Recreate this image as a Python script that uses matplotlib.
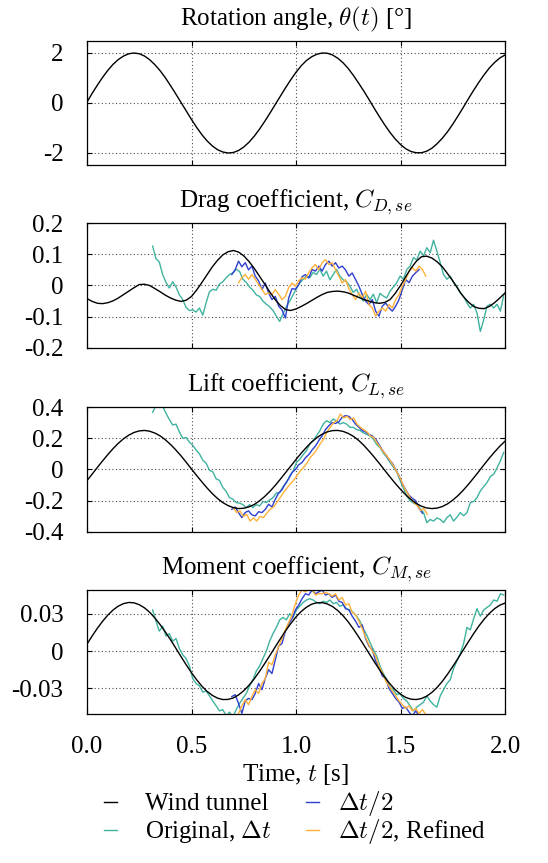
import numpy as np
import matplotlib
matplotlib.use("Agg")
import matplotlib.pyplot as plt
from matplotlib.lines import Line2D

plt.rcParams['font.family'] = ['Liberation Serif', 'DejaVu Serif']
plt.rcParams['mathtext.fontset'] = 'cm'
plt.rcParams['axes.unicode_minus'] = False

# ---------------- data ----------------
# wind tunnel curves, sampled every 0.025 s from 0 to 2 s
t_wt = [round(0.025 * i, 3) for i in range(81)]
theta_wt = [0.04, 0.39, 0.72, 1.03, 1.31, 1.55, 1.74, 1.88, 1.97, 2.00,
            1.97, 1.88, 1.73, 1.53, 1.29, 1.01, 0.69, 0.36, 0.02, -0.32,
            -0.66, -0.98, -1.27, -1.52, -1.72, -1.87, -1.96, -2.00, -1.98, -1.90,
            -1.76, -1.57, -1.33, -1.05, -0.74, -0.41, -0.07, 0.27, 0.61, 0.93,
            1.23, 1.49, 1.70, 1.85, 1.95, 2.00, 1.99, 1.92, 1.79, 1.61,
            1.38, 1.10, 0.79, 0.47, 0.13, -0.22, -0.56, -0.88, -1.18, -1.44,
            -1.66, -1.83, -1.94, -1.99, -1.99, -1.93, -1.81, -1.63, -1.41, -1.15,
            -0.85, -0.52, -0.18, 0.17, 0.51, 0.83, 1.13, 1.40, 1.62, 1.80,
            1.92]
cd_wt = [-0.042, -0.051, -0.057, -0.058, -0.055, -0.049, -0.040, -0.029, -0.018, -0.007,
         0.003, 0.004, 0.000, -0.010, -0.020, -0.031, -0.040, -0.047, -0.051, -0.047,
         -0.035, -0.014, 0.010, 0.035, 0.060, 0.081, 0.098, 0.108, 0.112, 0.107,
         0.095, 0.077, 0.055, 0.030, 0.005, -0.021, -0.045, -0.064, -0.077, -0.080,
         -0.075, -0.067, -0.058, -0.048, -0.038, -0.029, -0.022, -0.019, -0.018, -0.020,
         -0.024, -0.031, -0.038, -0.045, -0.050, -0.055, -0.057, -0.054, -0.045, -0.025,
         0.000, 0.028, 0.055, 0.077, 0.092, 0.094, 0.088, 0.076, 0.060, 0.038,
         0.015, -0.011, -0.035, -0.053, -0.067, -0.073, -0.074, -0.067, -0.055, -0.040,
         -0.024]
cl_wt = [-0.071, -0.029, 0.014, 0.056, 0.096, 0.134, 0.168, 0.197, 0.220, 0.237,
         0.247, 0.250, 0.245, 0.233, 0.215, 0.190, 0.160, 0.125, 0.087, 0.046,
         0.003, -0.039, -0.080, -0.119, -0.155, -0.186, -0.212, -0.231, -0.244, -0.250,
         -0.248, -0.239, -0.224, -0.201, -0.173, -0.140, -0.103, -0.062, -0.020, 0.022,
         0.064, 0.105, 0.142, 0.176, 0.204, 0.226, 0.241, 0.249, 0.250, 0.244,
         0.231, 0.212, 0.186, 0.154, 0.117, 0.078, 0.037, -0.006, -0.048, -0.089,
         -0.127, -0.162, -0.192, -0.217, -0.235, -0.246, -0.250, -0.247, -0.237, -0.220,
         -0.196, -0.167, -0.133, -0.095, -0.054, -0.012, 0.031, 0.073, 0.112, 0.149,
         0.181]
cm_wt = [0.0056, 0.0122, 0.0184, 0.0240, 0.0289, 0.0330, 0.0361, 0.0381, 0.0390, 0.0387,
         0.0372, 0.0347, 0.0311, 0.0265, 0.0212, 0.0153, 0.0090, 0.0023, -0.0045, -0.0111,
         -0.0174, -0.0231, -0.0282, -0.0324, -0.0356, -0.0378, -0.0389, -0.0388, -0.0376, -0.0352,
         -0.0318, -0.0275, -0.0223, -0.0164, -0.0101, -0.0035, 0.0032, 0.0098, 0.0162, 0.0221,
         0.0274, 0.0318, 0.0352, 0.0376, 0.0388, 0.0389, 0.0378, 0.0357, 0.0325, 0.0284,
         0.0234, 0.0176, 0.0113, 0.0047, -0.0020, -0.0087, -0.0151, -0.0211, -0.0264, -0.0310,
         -0.0346, -0.0372, -0.0386, -0.0389, -0.0381, -0.0362, -0.0332, -0.0292, -0.0243, -0.0186,
         -0.0124, -0.0059, 0.0008, 0.0075, 0.0140, 0.0201, 0.0255, 0.0302, 0.0340, 0.0368,
         0.0385]

# CFD series, sampled every 0.016 s from their first time
dt_cfd = 0.016
t0_orig, t0_half, t0_ref = 0.314, 0.693, 0.725
t0_cl_ref = 0.700

cd_orig = [0.126, 0.086, 0.075, 0.035, 0.010, -0.008, 0.012, -0.005, -0.030, -0.045,
           -0.070, -0.080, -0.078, -0.085, -0.072, -0.095, -0.055, -0.020, -0.012, -0.015,
           0.005, 0.012, 0.025, 0.035, 0.040, 0.052, 0.045, 0.020, 0.010, -0.005,
           -0.015, -0.030, -0.035, -0.050, -0.060, -0.068, -0.080, -0.098, -0.115, -0.090,
           -0.068, -0.050, -0.030, -0.010, 0.008, 0.020, 0.030, 0.025, 0.042, 0.035,
           0.052, 0.030, 0.046, 0.018, 0.035, 0.052, 0.030, 0.018, 0.012, -0.002,
           -0.022, -0.012, -0.034, -0.050, -0.028, -0.045, -0.028, -0.055, -0.025, -0.034,
           -0.040, -0.018, -0.005, 0.009, 0.030, 0.020, 0.051, 0.062, 0.089, 0.082,
           0.110, 0.095, 0.121, 0.105, 0.145, 0.110, 0.073, 0.035, 0.020, 0.030,
           0.009, -0.002, -0.024, -0.035, -0.056, -0.072, -0.060, -0.088, -0.147, -0.110,
           -0.066, -0.060, -0.072, -0.060, -0.082, -0.030]
cd_half = [0.035, 0.051, 0.078, 0.060, 0.073, 0.050, 0.062, 0.030, 0.015, -0.013,
           0.008, -0.024, -0.045, -0.035, -0.066, -0.078, -0.104, -0.040, -0.010, -0.012,
           0.003, 0.028, 0.035, 0.024, 0.051, 0.046, 0.062, 0.046, 0.067, 0.078,
           0.062, 0.073, 0.056, 0.062, 0.050, 0.030, 0.040, 0.019, -0.002, -0.029,
           -0.050, -0.061, -0.045, -0.082, -0.098, -0.066, -0.056, -0.072, -0.082, -0.066,
           -0.045, -0.013, 0.019, 0.009, 0.030, 0.041, 0.051]
cd_ref = [0.009, 0.025, 0.035, 0.020, 0.035, 0.020, 0.003, -0.012, -0.029, -0.024,
          -0.029, -0.013, -0.028, -0.045, -0.035, -0.007, 0.008, -0.002, 0.015, 0.025,
          0.020, 0.041, 0.057, 0.067, 0.050, 0.073, 0.083, 0.067, 0.073, 0.051,
          0.030, 0.008, 0.019, -0.010, -0.029, -0.045, -0.024, -0.040, -0.018, -0.061,
          -0.072, -0.098, -0.082, -0.072, -0.082, -0.061, -0.072, -0.045, -0.029, -0.002,
          0.019, 0.046, 0.057, 0.046, 0.062, 0.051, 0.030]

cl_orig = [0.366, 0.410, 0.415, 0.405, 0.360, 0.320, 0.285, 0.290, 0.240, 0.200,
           0.205, 0.175, 0.155, 0.125, 0.100, 0.060, 0.040, -0.005, -0.015, -0.060,
           -0.070, -0.115, -0.140, -0.180, -0.190, -0.212, -0.215, -0.225, -0.244, -0.225,
           -0.244, -0.225, -0.233, -0.205, -0.212, -0.195, -0.180, -0.150, -0.148, -0.110,
           -0.085, -0.040, -0.010, 0.045, 0.065, 0.095, 0.120, 0.165, 0.185, 0.215,
           0.248, 0.290, 0.312, 0.300, 0.323, 0.310, 0.291, 0.300, 0.291, 0.270,
           0.270, 0.255, 0.250, 0.235, 0.225, 0.215, 0.195, 0.160, 0.140, 0.105,
           0.080, 0.045, 0.015, -0.015, -0.070, -0.120, -0.170, -0.200, -0.215, -0.225,
           -0.250, -0.275, -0.340, -0.320, -0.330, -0.310, -0.319, -0.340, -0.308, -0.290,
           -0.330, -0.305, -0.276, -0.296, -0.276, -0.212, -0.205, -0.180, -0.137, -0.110,
           -0.083, -0.045, -0.030, 0.010, 0.056, 0.110]
cl_half = [-0.255, -0.240, -0.276, -0.308, -0.275, -0.265, -0.290, -0.297, -0.270, -0.276,
           -0.255, -0.222, -0.240, -0.190, -0.150, -0.130, -0.090, -0.060, -0.020, 0.000,
           0.030, 0.045, 0.075, 0.095, 0.125, 0.150, 0.185, 0.215, 0.255, 0.280,
           0.300, 0.295, 0.305, 0.335, 0.345, 0.340, 0.320, 0.290, 0.270, 0.250,
           0.240, 0.225, 0.215, 0.195, 0.160, 0.125, 0.095, 0.065, 0.040, 0.000,
           -0.040, -0.090, -0.130, -0.165, -0.185, -0.200, -0.250, -0.280]
cl_ref = [-0.244, -0.275, -0.265, -0.300, -0.287, -0.330, -0.310, -0.330, -0.300, -0.308,
          -0.280, -0.255, -0.240, -0.212, -0.180, -0.148, -0.120, -0.094, -0.070, -0.040,
          -0.010, 0.013, 0.040, 0.077, 0.100, 0.130, 0.165, 0.195, 0.240, 0.270,
          0.300, 0.312, 0.355, 0.330, 0.340, 0.320, 0.330, 0.290, 0.270, 0.255,
          0.240, 0.215, 0.205, 0.170, 0.140, 0.110, 0.085, 0.055, 0.020, -0.020,
          -0.060, -0.110, -0.150, -0.185, -0.212, -0.230, -0.262, -0.250, -0.287]

cm_orig = [0.033, 0.024, 0.016, 0.020, 0.012, 0.014, 0.008, 0.010, 0.002, -0.003,
           -0.006, -0.012, -0.022, -0.026, -0.028, -0.033, -0.032, -0.036, -0.040, -0.044,
           -0.048, -0.047, -0.052, -0.049, -0.053, -0.047, -0.042, -0.038, -0.034, -0.028,
           -0.023, -0.016, -0.012, -0.006, 0.000, 0.008, 0.014, 0.019, 0.025, 0.027,
           0.025, 0.030, 0.027, 0.033, 0.036, 0.039, 0.041, 0.042, 0.041, 0.039,
           0.038, 0.040, 0.039, 0.041, 0.038, 0.039, 0.036, 0.037, 0.034, 0.033,
           0.031, 0.028, 0.024, 0.018, 0.013, 0.007, 0.001, -0.004, -0.012, -0.018,
           -0.023, -0.029, -0.031, -0.035, -0.034, -0.038, -0.040, -0.044, -0.048, -0.045,
           -0.043, -0.041, -0.036, -0.040, -0.043, -0.045, -0.036, -0.031, -0.026, -0.023,
           -0.014, -0.008, -0.002, 0.006, 0.019, 0.017, 0.026, 0.034, 0.028, 0.033,
           0.035, 0.037, 0.041, 0.040, 0.046, 0.045]
cm_half = [-0.0365, -0.035, -0.042, -0.050, -0.040, -0.038, -0.039, -0.034, -0.026, -0.031,
           -0.022, -0.015, -0.018, -0.007, 0.004, 0.006, 0.016, 0.022, 0.026, 0.033,
           0.037, 0.042, 0.046, 0.045, 0.049, 0.046, 0.0475, 0.049, 0.045, 0.046,
           0.043, 0.045, 0.040, 0.039, 0.034, 0.033, 0.028, 0.024, 0.019, 0.021,
           0.010, 0.004, 0.001, -0.008, -0.013, -0.020, -0.022, -0.030, -0.034, -0.038,
           -0.041, -0.046, -0.045, -0.049, -0.052, -0.048, -0.052]
cm_ref = [-0.050, -0.044, -0.039, -0.043, -0.0365, -0.031, -0.034, -0.026, -0.022, -0.009,
          -0.011, -0.003, 0.0035, 0.010, 0.017, 0.023, 0.029, 0.038, 0.045, 0.049,
          0.0475, 0.050, 0.049, 0.045, 0.046, 0.046, 0.047, 0.046, 0.044, 0.046,
          0.041, 0.043, 0.037, 0.038, 0.031, 0.029, 0.024, 0.018, 0.011, 0.005,
          0.000, -0.004, -0.012, -0.017, -0.024, -0.028, -0.032, -0.036, -0.040, -0.043,
          -0.046, -0.044, -0.048, -0.046, -0.050, -0.047, -0.051]

titles = [r'Rotation angle, $\theta(t)$ [°]',
          r'Drag coefficient, $C_{D,se}$',
          r'Lift coefficient, $C_{L,se}$',
          r'Moment coefficient, $C_{M,se}$']
yticks = [[-2, 0, 2], [-0.2, -0.1, 0, 0.1, 0.2], [-0.4, -0.2, 0, 0.2, 0.4], [-0.03, 0, 0.03]]
yticklabels = [['-2', '0', '2'], ['-0.2', '-0.1', '0', '0.1', '0.2'],
               ['-0.4', '-0.2', '0', '0.2', '0.4'], ['-0.03', '0', '0.03']]
ylims = [(-2.48, 2.48), (-0.2, 0.2), (-0.4, 0.4), (-0.0505, 0.049)]
xticks = [0.0, 0.5, 1.0, 1.5, 2.0]
xticklabels = ['0.0', '0.5', '1.0', '1.5', '2.0']

labels = ['Wind tunnel', r'Original, $\Delta t$', r'$\Delta t/2$', r'$\Delta t/2$, Refined']
colors = ['black', '#3fb39f', '#2f3fcf', '#ffb13a']

# ---------------- plot ----------------
fig = plt.figure(figsize=(5.48, 8.63), dpi=100)
W, H = 548.0, 863.0
boxes = [(41, 165), (223, 348), (407, 532), (590, 714)]

wt = [theta_wt, cd_wt, cl_wt, cm_wt]
cfd = [None,
       [(cd_orig, t0_orig), (cd_half, t0_half), (cd_ref, t0_ref)],
       [(cl_orig, t0_orig), (cl_half, t0_half), (cl_ref, t0_cl_ref)],
       [(cm_orig, t0_orig), (cm_half, t0_half), (cm_ref, t0_ref)]]

for i, (top, bot) in enumerate(boxes):
    ax = fig.add_axes([87 / W, 1 - bot / H, 418 / W, (bot - top) / H])
    ax.plot(t_wt, wt[i], color=colors[0], lw=1.0, zorder=5)
    if cfd[i] is not None:
        for (series, t0), c in zip(cfd[i], colors[1:]):
            tt = t0 + dt_cfd * np.arange(len(series))
            ax.plot(tt, series, color=c, lw=1.0)
    ax.set_xlim(0, 2)
    ax.set_ylim(*ylims[i])
    ax.set_xticks(xticks)
    ax.set_yticks(yticks[i])
    ax.set_yticklabels(yticklabels[i])
    if i == 3:
        ax.set_xticklabels(xticklabels)
        ax.set_xlabel(r'Time, $t$ [s]', fontsize=18, labelpad=3)
    else:
        ax.set_xticklabels([])
    ax.tick_params(direction='in', top=True, right=True, length=3.5, width=0.8,
                   labelsize=18)
    ax.tick_params(axis='y', pad=17)
    ax.tick_params(axis='x', pad=16)
    ax.grid(True, color='0.3', linestyle=(0, (1, 2.2)), linewidth=0.8)
    for s in ax.spines.values():
        s.set_linewidth(0.9)
    ax.set_title(titles[i], fontsize=18, pad=11)

# legend laid out like the gnuplot key: two columns, short sample lines
key_pos = [(104, 145, 802), (104, 145, 830), (306, 338, 802), (306, 338, 830)]
for (xl, xt, yr), lab, c in zip(key_pos, labels, colors):
    fig.add_artist(Line2D([xl / W, (xl + 13) / W], [1 - yr / H] * 2,
                          transform=fig.transFigure, color=c, lw=1.0))
    fig.text(xt / W, 1 - (yr + 8) / H, lab, fontsize=18, ha='left', va='baseline')

fig.savefig('out.png', dpi=100)
